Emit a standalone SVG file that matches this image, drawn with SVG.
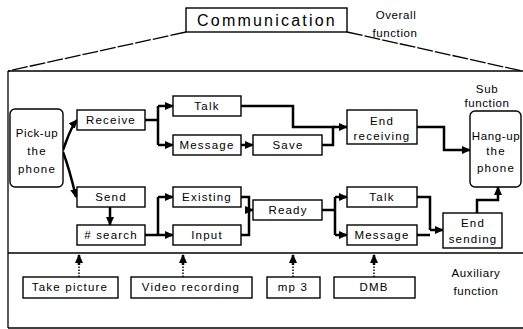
<svg xmlns="http://www.w3.org/2000/svg" width="523" height="329" viewBox="0 0 523 329">
<defs>
<marker id="ah" markerUnits="userSpaceOnUse" markerWidth="9" markerHeight="9" viewBox="0 0 9 9" refX="8" refY="4.5" orient="auto">
<path d="M0,0.5 L9,4.5 L0,8.5 Z" fill="#000"/>
</marker>
</defs>
<style>
.box{fill:#fff;stroke:#000;stroke-width:1.4}
.t{font-family:"Liberation Sans",Arial,sans-serif;font-size:11.5px;letter-spacing:1.2px;fill:#000;text-anchor:middle}
.c{fill:none;stroke:#000;stroke-width:2.5;marker-end:url(#ah)}
.cn{fill:none;stroke:#000;stroke-width:2.5}
.frame{fill:none;stroke:#000;stroke-width:1.3}
.dash{fill:none;stroke:#000;stroke-width:1.3;stroke-dasharray:16 2}
.dot{fill:none;stroke:#000;stroke-width:1.5;stroke-dasharray:1.5 1.5}
</style>
<rect width="523" height="329" fill="#fff"/>
<g id="frame">
<line class="frame" x1="8" y1="71" x2="523" y2="71"/>
<line class="frame" x1="8" y1="71" x2="8" y2="328"/>
<line class="frame" x1="8" y1="328" x2="523" y2="328"/>
<line class="frame" x1="8" y1="253" x2="523" y2="253"/>
<line class="dash" x1="186" y1="32" x2="8" y2="71"/>
<line class="dash" x1="347" y1="32" x2="522" y2="71"/>
</g>
<g id="communication">
<rect class="box" x="186" y="8" width="161" height="24"/>
<text class="t" x="267" y="26" style="font-size:16px;letter-spacing:2.2px">Communication</text>
</g>
<g id="labels">
<text class="t" x="396" y="19" style="font-size:11.5px;letter-spacing:0.6px">Overall</text>
<text class="t" x="395" y="37" style="font-size:11.5px;letter-spacing:0.6px">function</text>
<text class="t" x="487" y="93" style="font-size:11.5px;letter-spacing:0.6px">Sub</text>
<text class="t" x="487" y="107" style="font-size:11.5px;letter-spacing:0.6px">function</text>
<text class="t" x="476" y="277" style="font-size:11.5px;letter-spacing:0.6px">Auxiliary</text>
<text class="t" x="476" y="295" style="font-size:11.5px;letter-spacing:0.6px">function</text>
</g>
<g id="connectors">
<path class="c" d="M63,150 C67,140 70,128 77,120"/>
<path class="c" d="M63,152 C68,165 72,180 76,197"/>
<path class="cn" d="M145,120 H158 M158,106 V145"/>
<path class="c" d="M158,106 H173"/>
<path class="c" d="M158,145 H173"/>
<path class="c" d="M241,145 H253"/>
<path class="cn" d="M241,106 H293 V127 H335"/>
<path class="cn" d="M322,145 H333 V127"/>
<path class="c" d="M333,127 H347"/>
<path class="c" d="M417,127 H444 V150 H470"/>
<path class="c" d="M110,207 V225"/>
<path class="cn" d="M145,235 H158 M158,197 V235"/>
<path class="c" d="M158,197 H173"/>
<path class="c" d="M158,235 H173"/>
<path class="cn" d="M241,197 H249 V235 H241"/>
<path class="c" d="M249,210 H253"/>
<path class="cn" d="M322,210 H335 M335,197 V235"/>
<path class="c" d="M335,197 H347"/>
<path class="c" d="M335,235 H347"/>
<path class="cn" d="M417,197 H430 V230 M417,235 H430"/>
<path class="c" d="M430,230 H443"/>
<path class="c" d="M477,213 V200 H498 V187"/>
<path class="dot" d="M79,277 V264 M183,277 V264 M293,277 V264 M374,277 V264"/>
<path class="c" d="M79,265 V255"/>
<path class="c" d="M183,265 V255"/>
<path class="c" d="M293,265 V255"/>
<path class="c" d="M374,265 V255"/>
</g>
<g id="pickup">
<rect class="box" x="10" y="109" width="53" height="78" rx="5"/>
<text class="t" x="37" y="137" style="letter-spacing:0.6px">Pick-up</text>
<text class="t" x="37" y="155">the</text>
<text class="t" x="37" y="173">phone</text>
</g>
<g id="hangup">
<rect class="box" x="470" y="111" width="51" height="76" rx="5"/>
<text class="t" x="496" y="140" style="letter-spacing:0.6px">Hang-up</text>
<text class="t" x="496" y="155">the</text>
<text class="t" x="496" y="172">phone</text>
</g>
<g id="receive"><rect class="box" x="77" y="110" width="68" height="20"/><text class="t" x="111" y="124">Receive</text></g>
<g id="talk1"><rect class="box" x="173" y="96" width="68" height="20"/><text class="t" x="207" y="110">Talk</text></g>
<g id="message1"><rect class="box" x="173" y="135" width="68" height="20"/><text class="t" x="207" y="149">Message</text></g>
<g id="save"><rect class="box" x="253" y="135" width="69" height="20"/><text class="t" x="288" y="149">Save</text></g>
<g id="endreceiving"><rect class="box" x="347" y="110" width="70" height="34"/><text class="t" x="382" y="125">End</text><text class="t" x="382" y="140">receiving</text></g>
<g id="send"><rect class="box" x="77" y="187" width="68" height="20"/><text class="t" x="111" y="201">Send</text></g>
<g id="search"><rect class="box" x="77" y="225" width="68" height="20"/><text class="t" x="111" y="239"># search</text></g>
<g id="existing"><rect class="box" x="173" y="187" width="68" height="20"/><text class="t" x="207" y="201">Existing</text></g>
<g id="input"><rect class="box" x="173" y="225" width="68" height="20"/><text class="t" x="207" y="239">Input</text></g>
<g id="ready"><rect class="box" x="253" y="200" width="69" height="20"/><text class="t" x="288" y="214">Ready</text></g>
<g id="talk2"><rect class="box" x="347" y="187" width="70" height="20"/><text class="t" x="382" y="201">Talk</text></g>
<g id="message2"><rect class="box" x="347" y="225" width="70" height="20"/><text class="t" x="382" y="239">Message</text></g>
<g id="endsending"><rect class="box" x="443" y="213" width="59" height="35"/><text class="t" x="473" y="227">End</text><text class="t" x="473" y="243">sending</text></g>
<g id="takepicture"><rect class="box" x="23" y="277" width="95" height="21"/><text class="t" x="70" y="291">Take picture</text></g>
<g id="videorecording"><rect class="box" x="131" y="277" width="121" height="21"/><text class="t" x="191" y="291">Video recording</text></g>
<g id="mp3"><rect class="box" x="267" y="277" width="53" height="21"/><text class="t" x="293" y="291">mp 3</text></g>
<g id="dmb"><rect class="box" x="334" y="277" width="81" height="21"/><text class="t" x="374" y="291">DMB</text></g>
</svg>
